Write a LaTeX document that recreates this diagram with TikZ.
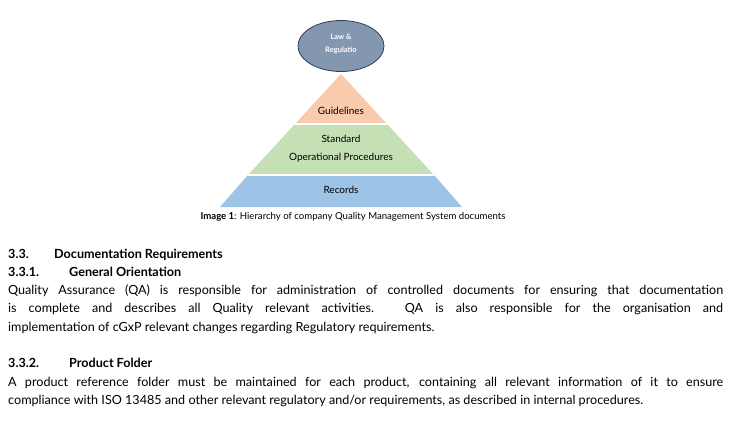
\documentclass[tikz,border=0pt]{standalone}
\usepackage{fontspec}
\usetikzlibrary{shapes.geometric}
\setmainfont{Lato}
\begin{document}
\begin{tikzpicture}[x=1pt,y=-1pt,
  lbl/.style={font=\fontsize{10}{12}\selectfont,align=center,inner sep=0},
  body/.style={anchor=base west,inner sep=0,font=\fontsize{12.6}{15}\selectfont},
  head/.style={body,font=\fontsize{12.6}{15}\selectfont\bfseries}]
\definecolor{ell}{HTML}{8497B0}\definecolor{elld}{HTML}{2F3F5A}
\definecolor{gl}{HTML}{F8CBAD}\definecolor{sop}{HTML}{C5E0B4}\definecolor{rec}{HTML}{9DC3E6}
\useasboundingbox (0,0) rectangle (732,421);
\fill[white] (0,0) rectangle (732,421);
% pyramid
\fill[gl] (341,74) -- (387,124) -- (295,124) -- cycle;
\fill[sop] (295,124) -- (387,124) -- (434,175) -- (248,175) -- cycle;
\fill[rec] (248,175) -- (434,175) -- (462,207) -- (220,207) -- cycle;
\draw[white,line width=1.2pt] (295,124) -- (387,124) (248,175) -- (434,175);
\node[ellipse,draw=elld,fill=ell,line width=0.8pt,minimum width=86,minimum height=51] (law) at (341,46) {};
\node[font=\fontsize{7.5}{13}\selectfont\bfseries,text=white,align=center] (lawt) at (341,44) {Law \&\\Regulatio};
\node[lbl] (g) at (341,111) {Guidelines};
\node[lbl,font=\fontsize{10}{18}\selectfont] (s) at (341,149) {Standard\\Operational Procedures};
\node[lbl] (r) at (341,190) {Records};
\node[anchor=base,inner sep=0,font=\fontsize{9.6}{12}\selectfont] (cap) at (353,219) {\textbf{Image 1}: Hierarchy of company Quality Management System documents};
% text
\node[head] (h1) at (8,258) {3.3.};
\node[head] (h1b) at (54,258) {Documentation Requirements};
\node[head] (h2) at (8,276) {3.3.1.};
\node[head] (h2b) at (69,276) {General Orientation};
\node[body] (p1) at (8,294) {\makebox[715pt][s]{Quality Assurance (QA) is responsible for administration of controlled documents for ensuring that documentation}};
\node[body] (p2) at (8,312) {\makebox[715pt][s]{is complete and describes all Quality relevant activities. QA is also responsible for the organisation and}};
\node[body] (p3) at (8,331) {implementation of cGxP relevant changes regarding Regulatory requirements.};
\node[head] (h3) at (8,367) {3.3.2.};
\node[head] (h3b) at (69,367) {Product Folder};
\node[body] (q1) at (8,386) {\makebox[715pt][s]{A product reference folder must be maintained for each product, containing all relevant information of it to ensure}};
\node[body] (q2) at (8,404) {compliance with ISO 13485 and other relevant regulatory and/or requirements, as described in internal procedures.};
\end{tikzpicture}
\end{document}
